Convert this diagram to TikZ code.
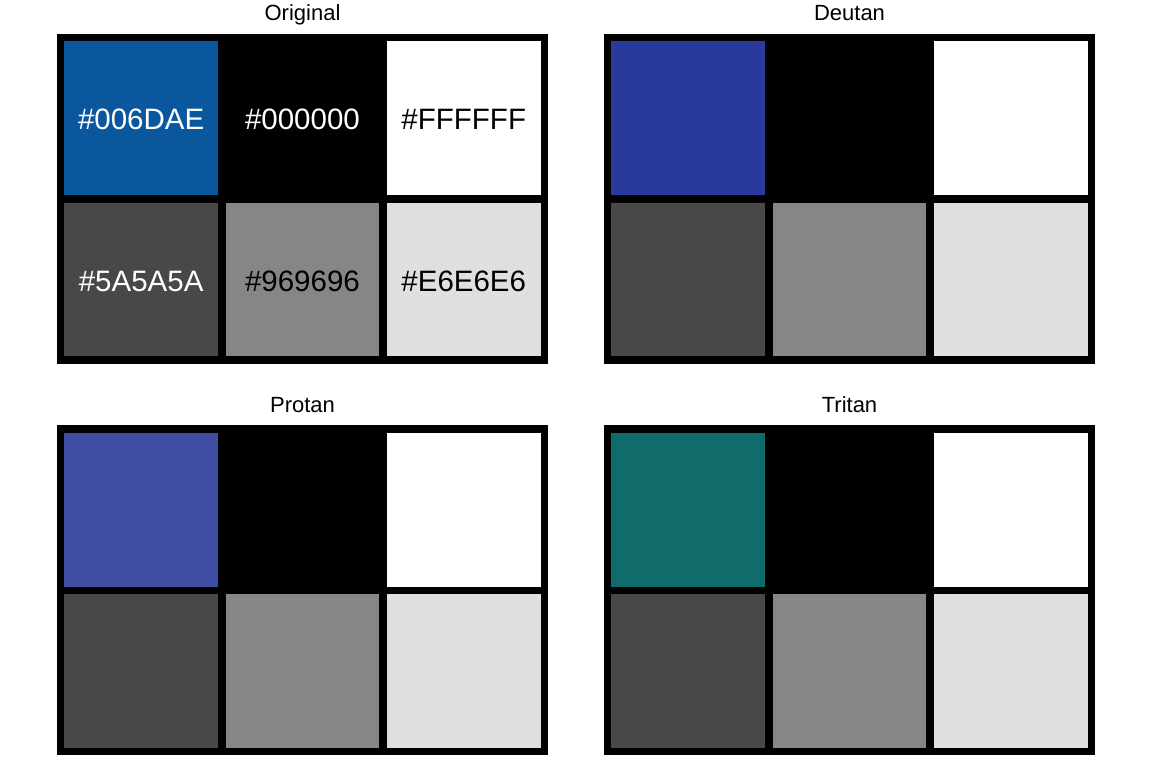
\documentclass[tikz,border=0pt]{standalone}
\usepackage{fontspec}
\setmainfont{Liberation Sans}
\usetikzlibrary{positioning, calc}
\definecolor{origblue}{HTML}{0B579D}
\definecolor{deutblue}{HTML}{2A3A9C}
\definecolor{protblue}{HTML}{3F4EA2}
\definecolor{tritteal}{HTML}{0F6C6B}
\definecolor{darkgrey}{HTML}{484848}
\definecolor{midgrey}{HTML}{868686}
\definecolor{lightgrey}{HTML}{DFDFDF}
\tikzset{
    swatch/.style={
        rectangle,
        draw=black,
        line width=7.5pt,
        minimum width=161.3pt,
        minimum height=161.25pt,
        inner sep=0pt,
        outer sep=0pt,
        font=\fontsize{29.5}{35}\selectfont
    },
    hexlabel/.style={
        inner sep=0pt,
        yshift=-1.5pt,
        font=\fontsize{29.5}{35}\selectfont
    },
    paneltitle/.style={
        anchor=base,
        inner sep=0pt,
        font=\fontsize{22}{26}\selectfont
    }
}

\begin{document}
\begin{tikzpicture}[x=1pt, y=-1pt]
        \useasboundingbox (0,0) rectangle (1152,768);

        % Original panel, with the hex codes
        \node[swatch, fill=origblue] (o1) at (141.15,118.3) {};
        \node[swatch, fill=black, right=0pt of o1] (o2) {};
        \node[swatch, fill=white, right=0pt of o2] (o3) {};
        \node[swatch, fill=darkgrey, below=0pt of o1] (o4) {};
        \node[swatch, fill=midgrey, right=0pt of o4] (o5) {};
        \node[swatch, fill=lightgrey, right=0pt of o5] (o6) {};
        \node[hexlabel, text=white] (l1) at (o1) {\#006DAE};
        \node[hexlabel, text=white] (l2) at (o2) {\#000000};
        \node[hexlabel, text=black] (l3) at (o3) {\#FFFFFF};
        \node[hexlabel, text=white] (l4) at (o4) {\#5A5A5A};
        \node[hexlabel, text=black] (l5) at (o5) {\#969696};
        \node[hexlabel, text=black] (l6) at (o6) {\#E6E6E6};
        \node[paneltitle] (t-o) at (302.5,20.7) {Original};

        % Simulated panels
        \foreach \p/\cx/\cy/\first/\name in {
            d/688.15/118.3/deutblue/Deutan,
            p/141.15/509.8/protblue/Protan,
            t/688.15/509.8/tritteal/Tritan}{
            \node[swatch, fill=\first] (\p1) at (\cx,\cy) {};
            \node[swatch, fill=black, right=0pt of \p1] (\p2) {};
            \node[swatch, fill=white, right=0pt of \p2] (\p3) {};
            \node[swatch, fill=darkgrey, below=0pt of \p1] (\p4) {};
            \node[swatch, fill=midgrey, right=0pt of \p4] (\p5) {};
            \node[swatch, fill=lightgrey, right=0pt of \p5] (\p6) {};
            \node[paneltitle] (t-\p) at ($(\cx,\cy)+(161.35,-97.6)$) {\name};
        }
    \end{tikzpicture}
\end{document}
